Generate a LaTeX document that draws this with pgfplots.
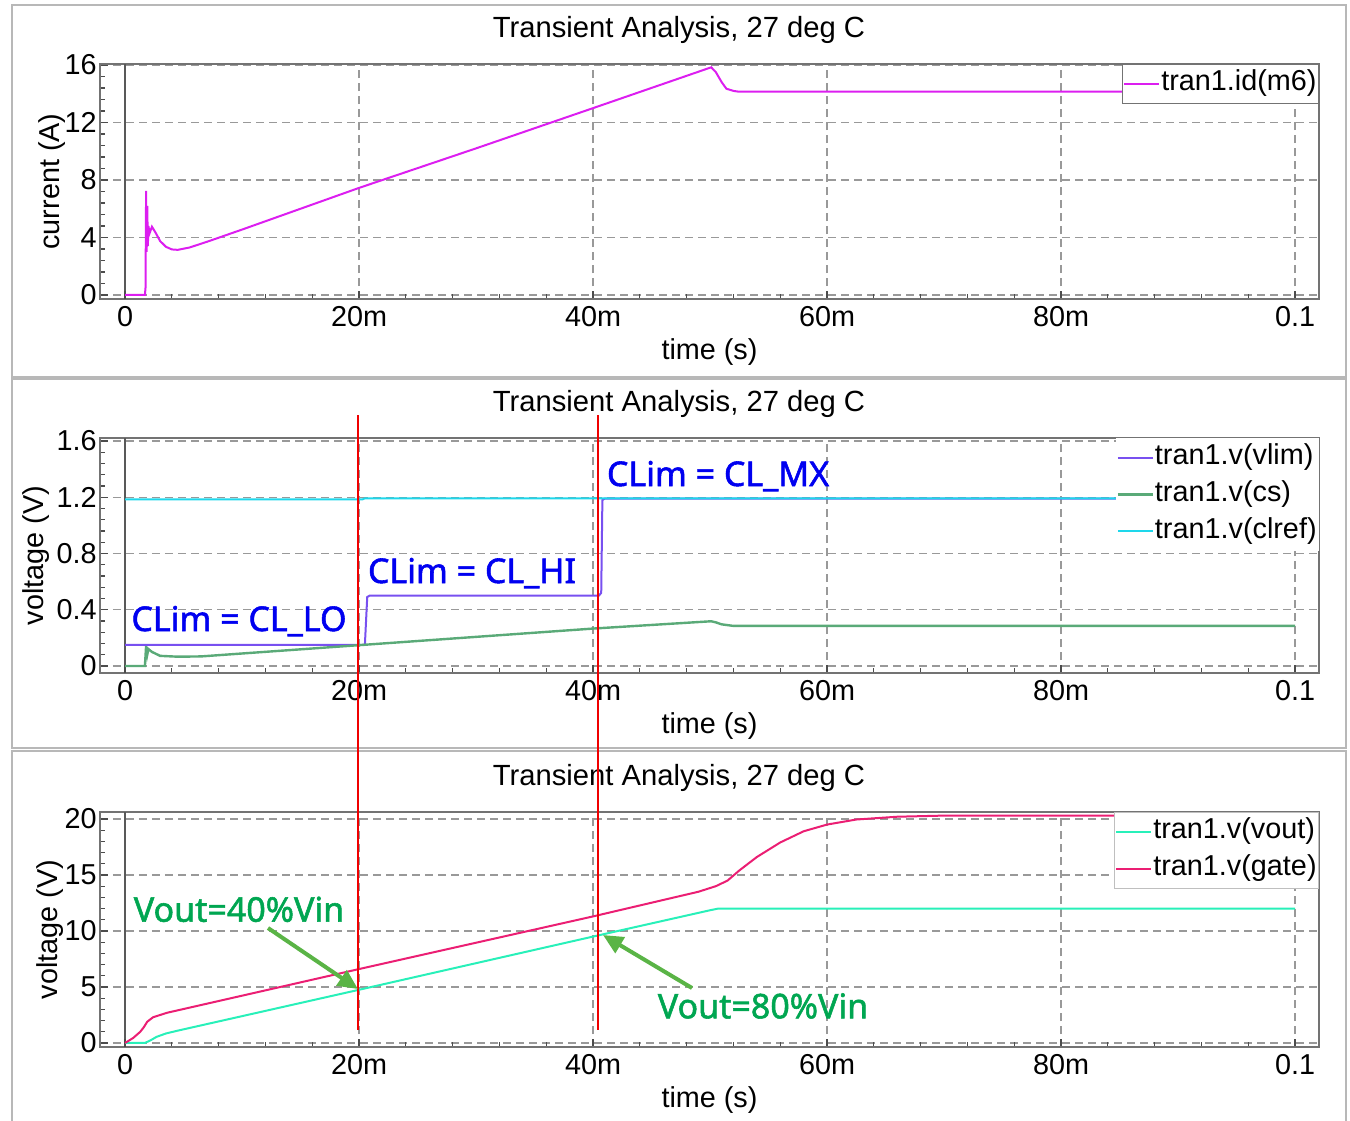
\documentclass[border=0pt]{standalone}
\usepackage{pgfplots}
\pgfplotsset{compat=1.18}
\usepackage{fontspec}
\setmainfont{Liberation Sans}
\newfontfamily\annfont{Noto Sans}[FakeBold=1.6]
\usetikzlibrary{arrows.meta}
\definecolor{cid}{RGB}{220,30,240}
\definecolor{cvlim}{RGB}{120,80,240}
\definecolor{ccs}{RGB}{90,170,120}
\definecolor{cclref}{RGB}{30,215,235}
\definecolor{cvout}{RGB}{40,240,185}
\definecolor{cgate}{RGB}{235,30,115}
\definecolor{cblue}{RGB}{0,0,240}
\definecolor{cgreen}{RGB}{0,166,81}
\definecolor{carrow}{RGB}{90,180,70}
\definecolor{cred}{RGB}{240,0,0}
\pgfplotsset{
  myaxis/.style={
    scale only axis, width=609.5pt, height=117.5pt, anchor=south west,
    xmin=-0.00214, xmax=0.10205,
    xtick={0,0.02,0.04,0.06,0.08,0.1}, xticklabels={0,20m,40m,60m,80m,0.1},
    scaled x ticks=false, scaled y ticks=false,
    minor x tick num=4, minor y tick num=4,
    tick pos=left, tick align=inside, major tick length=4pt, minor tick length=2.5pt,
    tick style={black!70, line width=0.6pt},
    grid=major,
    major grid style={black!40, line width=0.6pt, dash pattern=on 4pt off 2.5pt},
    axis line style={black!55, line width=0.8pt},
    extra x ticks={0}, extra x tick labels={},
    extra x tick style={grid=major, major grid style={solid, black!65, line width=0.6pt}},
    xlabel={time (s)},
    xlabel style={at={(axis description cs:0.5,-0.2255)}, anchor=center},
    xticklabel style={anchor=base, yshift=-13.5pt},
    yticklabel style={inner xsep=0pt, xshift=-1.5pt},
    font=\fontsize{14.4}{16}\selectfont,
    /pgf/number format/assume math mode=true,
    legend cell align=left,
    legend image code/.code={\draw[#1] (0pt,0pt) -- (17.5pt,0pt);},
    legend style={at={(1,1)}, anchor=north east, fill=white,
      font=\fontsize{14.4}{16}\selectfont, inner sep=0.5pt,
      nodes={inner ysep=2.2pt, inner xsep=0.5pt, text height=10.5pt, text depth=3.5pt}},
    every axis plot/.append style={line width=1pt},
  }
}
\begin{document}
\begin{tikzpicture}
\path[use as bounding box] (0pt,0pt) rectangle (675pt,-560pt);
\begin{scope}[x=0.5pt,y=-0.5pt]
\draw[black!28, line width=1pt] (12,5) rectangle (1346,377);
\draw[black!28, line width=1pt] (12,379) rectangle (1346,748);
\draw[black!28, line width=1pt] (12,751) rectangle (1346,1126);
\node[anchor=base, font=\fontsize{14.6}{16}\selectfont] at (679,37.7) {Transient Analysis, 27 deg C};
\node[anchor=base, font=\fontsize{14.6}{16}\selectfont] at (679,411.7) {Transient Analysis, 27 deg C};
\node[anchor=base, font=\fontsize{14.6}{16}\selectfont] at (679,785.7) {Transient Analysis, 27 deg C};
\end{scope}

% Panel 1
\begin{axis}[myaxis, at={(50pt,-149.5pt)},
  ymin=-0.28, ymax=16.07, ytick={0,4,8,12,16},
  ylabel={current (A)}, ylabel style={at={(axis description cs:-0.0395,0.5)}, anchor=center},
  legend style={draw=black!55}]
\addplot[cid] coordinates {
(0,0) (0.0017,0) (0.00175,0.5) (0.0018,7.25) (0.00185,3.0) (0.0019,6.2) (0.00195,3.4)
(0.002,4.8) (0.0021,4.3) (0.0023,4.75) (0.0026,4.35) (0.003,3.75) (0.0035,3.35)
(0.004,3.17) (0.0045,3.14) (0.0055,3.3) (0.007,3.7) (0.01,4.55) (0.02,7.45)
(0.03,10.2) (0.04,13.0) (0.0501,15.84) (0.0505,15.5) (0.051,14.8) (0.0514,14.35)
(0.052,14.2) (0.0524,14.15) (0.1,14.15)};
\addlegendentry{tran1.id(m6)}
\end{axis}

% Panel 2
\begin{axis}[myaxis, at={(50pt,-336.5pt)},
  ymin=-0.05, ymax=1.621, ytick={0,0.4,0.8,1.2,1.6}, yticklabels={0,0.4,0.8,1.2,1.6},
  ylabel={voltage (V)}, ylabel style={at={(axis description cs:-0.0525,0.5)}, anchor=center},
  legend style={draw=none}]
\addplot[cvlim] coordinates {
(0,0.15) (0.0205,0.15) (0.0207,0.49) (0.0209,0.5) (0.0405,0.5) (0.0407,0.52) (0.0408,1.18) (0.041,1.19) (0.1,1.19)};
\addlegendentry{tran1.v(vlim)}
\addplot[ccs, line width=1.2pt] coordinates {
(0,0) (0.0017,0) (0.0018,0.14) (0.0019,0.08) (0.002,0.12) (0.0023,0.1) (0.003,0.072)
(0.0045,0.066) (0.0065,0.068) (0.02,0.148) (0.04,0.266) (0.0501,0.318) (0.0505,0.31)
(0.051,0.296) (0.052,0.285) (0.1,0.285)};
\addlegendentry{tran1.v(cs)}
\addplot[cclref] coordinates {
(0,1.185) (0.0203,1.185) (0.0205,1.192) (0.1,1.192)};
\addlegendentry{tran1.v(clref)}
\end{axis}

% Panel 3
\begin{axis}[myaxis, at={(50pt,-523.5pt)},
  ymin=-0.36, ymax=20.62, ytick={0,5,10,15,20},
  ylabel={voltage (V)}, ylabel style={at={(axis description cs:-0.041,0.5)}, anchor=center},
  legend style={draw=black!25}]
\addplot[cvout] coordinates {
(0,0) (0.0017,0) (0.0022,0.25) (0.0027,0.55) (0.0035,0.85) (0.0045,1.1) (0.02,4.75)
(0.04,9.5) (0.05,11.85) (0.0507,12.0) (0.1,12.0)};
\addlegendentry{tran1.v(vout)}
\addplot[cgate] coordinates {
(0,0) (0.0007,0.45) (0.0013,1.0) (0.0016,1.4) (0.0019,1.9) (0.0024,2.3) (0.003,2.5)
(0.0036,2.7) (0.02,6.6) (0.04,11.3) (0.049,13.5) (0.0505,14.0) (0.0515,14.5)
(0.0525,15.4) (0.054,16.6) (0.056,17.9) (0.058,18.9) (0.06,19.5) (0.0625,19.95)
(0.066,20.2) (0.07,20.3) (0.1,20.3)};
\addlegendentry{tran1.v(gate)}
\end{axis}

\begin{scope}[x=0.5pt,y=-0.5pt]
\draw[cred, line width=0.8pt] (358,415) -- (358,1030);
\draw[cred, line width=0.8pt] (598,415) -- (598,1030);
\begin{scope}[every node/.style={font=\annfont\fontsize{17}{19}\selectfont, anchor=base, inner sep=0pt}]
\node[text=cblue] at (239,631) {CLim = CL\_LO};
\node[text=cblue] at (472,583) {CLim = CL\_HI};
\node[text=cblue] at (718,486) {CLim = CL\_MX};
\node[text=cgreen] at (239,921.7) {Vout=40\%Vin};
\node[text=cgreen] at (763,1018.3) {Vout=80\%Vin};
\end{scope}
\draw[carrow, line width=2pt, -{Triangle[length=10pt,width=9pt]}] (268,928) -- (358,989);
\draw[carrow, line width=2pt, -{Triangle[length=10pt,width=9pt]}] (692,988) -- (603,935);
\end{scope}
\end{tikzpicture}
\end{document}
